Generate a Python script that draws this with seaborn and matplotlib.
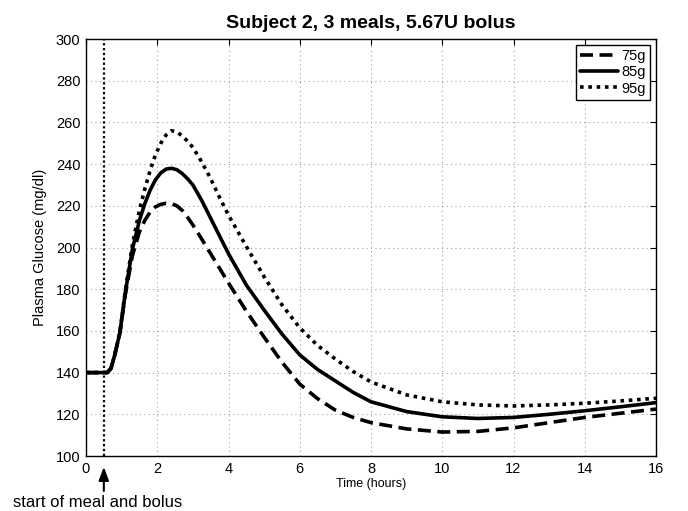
import pandas as pd
import matplotlib
matplotlib.use('Agg')
import matplotlib.pyplot as plt
import seaborn as sns

# values
time_h = [0, 0.6, 0.7, 0.8, 0.95, 1.1, 1.3, 1.5, 1.65, 1.8, 1.95, 2.1, 2.25, 2.4, 2.55,
          2.7, 2.85, 3.0, 3.25, 3.5, 3.75, 4.0, 4.5, 5.0, 5.5, 6.0, 6.5, 7.0, 7.5, 8.0,
          9.0, 10.0, 11.0, 12.0, 13.0, 14.0, 15.0, 16.0]
g75 = [140, 140, 142, 148, 159, 177, 196, 207.5, 213, 217, 219.5, 220.7, 221.2, 221, 220,
       217.8, 214.5, 210.8, 204, 197, 190, 183, 169.5, 157, 145, 134.5, 127.5, 122, 118.5, 116,
       113, 111.5, 111.8, 113.5, 116, 118.5, 120.5, 122.5]
g85 = [140, 140, 142, 148, 159, 178, 199, 213, 221, 227.5, 232.5, 235.8, 237.6, 238, 237.3,
       235.5, 233, 230, 222.5, 214, 205.5, 197, 182, 170, 158.5, 148.5, 141.5, 136, 130.5, 126,
       121.3, 118.8, 118, 118.5, 120, 121.7, 123.6, 125.6]
g95 = [140, 140, 142, 148, 159, 179, 201, 218, 228, 237, 244.5, 250, 254, 256, 255.5,
       253.5, 251, 248, 241, 233, 224, 215.5, 200.5, 186, 172.5, 161.5, 153, 146.5, 140.5, 135.5,
       129.3, 126, 124.5, 124, 124.5, 125.3, 126.4, 127.7]
labels = ['75g', '85g', '95g']
meal_time = 0.5

sns.set_style('white')
plt.rcParams['font.family'] = ['Liberation Sans', 'DejaVu Sans']
plt.rcParams['text.color'] = 'k'
plt.rcParams['axes.labelcolor'] = 'k'

df = pd.DataFrame({'t': time_h, '75g': g75, '85g': g85, '95g': g95})

fig = plt.figure(figsize=(6.88, 5.11), dpi=100)
ax = fig.add_axes([86/688, 1-456/511, 570/688, 417/511])

styles = {'75g': (0, (3.6, 1.8)), '85g': '-', '95g': (0, (1, 1.3))}
for lab in labels:
    sns.lineplot(data=df, x='t', y=lab, ax=ax, color='k', lw=2.6,
                 linestyle=styles[lab], label=lab)

ax.axvline(meal_time, color='k', lw=1.6, linestyle=(0, (1, 1.2)))

ax.set_xlim(0, 16)
ax.set_ylim(100, 300)
ax.set_xticks(range(0, 17, 2))
ax.set_yticks(range(100, 301, 20))
ax.grid(True, color='#a0a0a0', linestyle=(0, (1, 3)), lw=0.8)
ax.tick_params(direction='in', top=True, right=True, length=4, width=0.8,
               labelsize=10.5, colors='k', pad=4)
for s in ax.spines.values():
    s.set_color('k')
    s.set_linewidth(1.0)

ax.set_title('Subject 2, 3 meals, 5.67U bolus', fontsize=14, fontweight='bold', pad=8)
ax.set_xlabel('Time (hours)', fontsize=9, labelpad=2)
ax.set_ylabel('Plasma Glucose (mg/dl)', fontsize=10.5, labelpad=6)

leg = ax.legend(loc='upper right', fontsize=10.5, handlelength=2.6, handletextpad=0.2,
                borderpad=0.3, labelspacing=0.15, fancybox=False, framealpha=1,
                borderaxespad=0.4)
leg.get_frame().set_edgecolor('k')
leg.get_frame().set_linewidth(1.0)

# arrow and note below the axis
ax.annotate('', xy=(meal_time, -0.026), xytext=(meal_time, -0.084),
            xycoords=('data', 'axes fraction'), textcoords=('data', 'axes fraction'),
            arrowprops=dict(arrowstyle='-|>,head_width=0.3,head_length=0.8', color='k',
                            lw=1.5, shrinkA=0, shrinkB=0),
            annotation_clip=False)
fig.text(13/688, 1-507/511, 'start of meal and bolus', fontsize=12, va='baseline', ha='left')

fig.savefig('out.png', dpi=100)
